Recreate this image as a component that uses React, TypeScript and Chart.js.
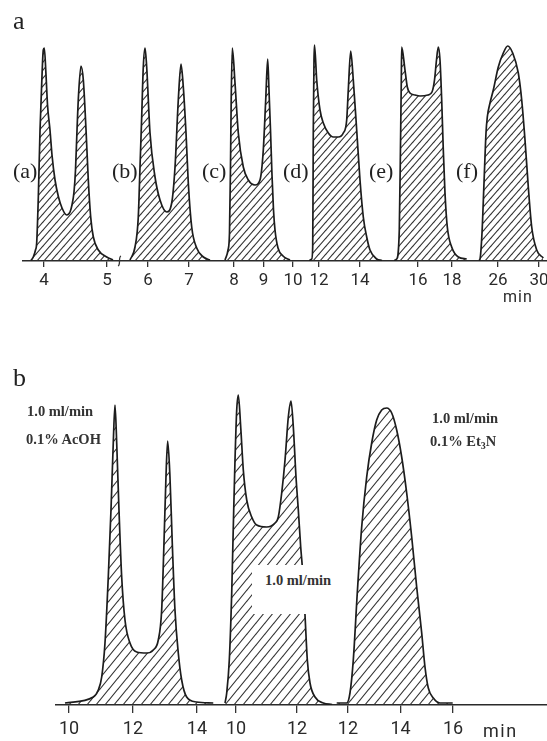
import React, { useEffect, useRef } from 'react';
import { Chart, registerables } from 'chart.js';
Chart.register(...registerables);

// ---------------- Panel a: six chromatograms (time in min, detector signal) ----------------
const runATime = [3.794, 3.830, 3.865, 3.884, 3.910, 3.937, 3.960, 3.989, 4.005, 4.032, 4.056, 4.095, 4.127, 4.175, 4.230, 4.286, 4.360, 4.413, 4.444, 4.476, 4.500, 4.524, 4.548, 4.587, 4.624, 4.667, 4.703, 4.741, 4.783, 4.862, 4.995, 5.095];
const runASignal = [0.5, 4, 11, 18, 64, 131, 171, 211, 213, 186, 156, 131, 106, 81, 64, 53, 46, 49, 56, 69, 91, 131, 166, 195, 181, 131, 81, 44, 24, 11, 4, 1];

const runBTime = [5.561, 5.683, 5.763, 5.805, 5.846, 5.885, 5.927, 5.968, 6.049, 6.171, 6.293, 6.456, 6.578, 6.659, 6.739, 6.805, 6.861, 6.927, 6.983, 7.066, 7.188, 7.349, 7.512];
const runBSignal = [1, 14, 44, 94, 144, 194, 213, 194, 128, 84, 61, 49, 58, 94, 161, 197, 174, 128, 78, 34, 13, 4, 1];

const runCTime = [7.695, 7.797, 7.847, 7.881, 7.905, 7.942, 8.034, 8.146, 8.315, 8.485, 8.712, 8.881, 8.993, 9.075, 9.142, 9.186, 9.237, 9.288, 9.339, 9.390, 9.492, 9.661, 9.898];
const runCSignal = [1, 11, 28, 94, 161, 213, 178, 128, 94, 81, 76, 81, 111, 161, 202, 171, 131, 86, 51, 31, 13, 5, 1];

const runDTime = [11.512, 11.644, 11.693, 11.707, 11.722, 11.756, 11.780, 11.888, 12.049, 12.210, 12.454, 12.698, 12.941, 13.185, 13.351, 13.429, 13.546, 13.673, 13.839, 14.0, 14.161, 14.327, 14.488, 14.815, 15.073];
const runDSignal = [0.5, 2, 14, 61, 131, 201, 216, 181, 151, 138, 128, 124, 124, 128, 141, 171, 210, 181, 131, 81, 44, 24, 11, 2, 0.5];

const runETime = [14.588, 14.747, 14.9, 14.982, 15.018, 15.041, 15.235, 15.371, 15.529, 15.824, 16.118, 16.588, 16.824, 16.971, 17.088, 17.194, 17.294, 17.394, 17.488, 17.588, 17.724, 17.982, 18.371, 18.865];
const runESignal = [0.5, 2, 31, 131, 181, 214, 191, 174, 168, 166, 165, 166, 169, 181, 201, 214, 201, 161, 111, 68, 34, 14, 4, 2];

const runFTime = [24.146, 24.244, 24.439, 24.634, 24.829, 24.956, 25.22, 25.541, 26.029, 26.517, 26.946, 27.434, 27.98, 28.312, 28.634, 28.956, 29.288, 29.776, 30.42];
const runFSignal = [0.5, 2, 28, 78, 128, 144, 158, 171, 194, 208, 215, 208, 188, 161, 121, 74, 34, 11, 3];

const ticksRunA = [4, 5];
const ticksRunB = [6, 7];
const ticksRunC = [8, 9, 10];
const ticksRunD = [12, 14];
const ticksRunE = [16, 18];
const ticksRunF = [26, 30];
const runLabels = ['(a)', '(b)', '(c)', '(d)', '(e)', '(f)'];

// ---------------- Panel b: three chromatograms ----------------
const acohTime = [9.875, 10.759, 10.916, 11.022, 11.125, 11.228, 11.3125, 11.384, 11.4375, 11.491, 11.5625, 11.647, 11.75, 11.906, 12.116, 12.428, 12.634, 12.791, 12.897, 12.969, 13.031, 13.084, 13.156, 13.228, 13.3125, 13.416, 13.522, 13.678, 13.991, 14.509];
const acohSignal = [2, 8, 15, 28, 62, 128, 195, 262, 300, 262, 195, 128, 85, 62, 53, 52, 55, 65, 95, 162, 228, 264, 228, 162, 95, 52, 25, 8, 3, 2];

const plainTime = [9.639, 9.695, 9.780, 9.859, 9.911, 9.967, 10.023, 10.075, 10.154, 10.239, 10.351, 10.515, 10.679, 11.007, 11.279, 11.387, 11.498, 11.607, 11.715, 11.803, 11.879, 11.967, 12.043, 12.121, 12.174, 12.262, 12.338, 12.426, 12.590, 12.862, 13.15];
const plainSignal = [2, 12, 45, 112, 178, 245, 295, 310, 278, 235, 205, 188, 180, 178, 182, 188, 212, 245, 288, 304, 278, 228, 195, 158, 138, 90, 45, 22, 8, 2, 0.5];

const et3nTime = [11.570, 11.950, 12.076, 12.202, 12.354, 12.522, 12.712, 12.903, 13.093, 13.284, 13.474, 13.665, 13.855, 14.046, 14.236, 14.427, 14.617, 14.808, 14.933, 15.059, 15.250, 15.505, 15.989];
const et3nSignal = [2, 2, 12, 45, 112, 178, 228, 262, 285, 295, 297, 292, 275, 248, 212, 168, 118, 72, 38, 17, 7, 2, 2];

const ticksAcoh = [10, 12, 14];
const ticksPlain = [10, 12];
const ticksEt3n = [12, 14, 16];

// ---------------- layout (axis windows of each broken-axis piece) ----------------
type Seg = { time: number[]; signal: number[]; ticks: number[]; min: number; max: number; left: number; width: number };

const panelASegs: Seg[] = [
  { time: runATime, signal: runASignal, ticks: ticksRunA, min: 3.651, max: 5.206, left: 22, width: 98 },
  { time: runBTime, signal: runBSignal, ticks: ticksRunB, min: 5.317, max: 7.561, left: 120, width: 92 },
  { time: runCTime, signal: runCSignal, ticks: ticksRunC, min: 7.254, max: 10.407, left: 212, width: 93 },
  { time: runDTime, signal: runDSignal, ticks: ticksRunD, min: 11.317, max: 15.22, left: 305, width: 80 },
  { time: runETime, signal: runESignal, ticks: ticksRunE, min: 14.059, max: 19.059, left: 385, width: 85 },
  { time: runFTime, signal: runFSignal, ticks: ticksRunF, min: 23.268, max: 30.78, left: 470, width: 77 },
];
const runLabelX = [13, 112, 202, 283, 369, 456];

const panelBSegs: Seg[] = [
  { time: acohTime, signal: acohSignal, ticks: ticksAcoh, min: 9.5625, max: 14.72, left: 55, width: 165 },
  { time: plainTime, signal: plainSignal, ticks: ticksPlain, min: 9.475, max: 13.18, left: 220, width: 113 },
  { time: et3nTime, signal: et3nSignal, ticks: ticksEt3n, min: 11.429, max: 19.581, left: 333, width: 214 },
];

function makeHatch(ctx: CanvasRenderingContext2D, w: number, h: number) {
  const c = document.createElement('canvas');
  c.width = w;
  c.height = h;
  const g = c.getContext('2d')!;
  g.strokeStyle = '#2e2e2e';
  g.lineWidth = 1.1;
  for (const off of [-w, 0, w]) {
    g.beginPath();
    g.moveTo(off - w, 2 * h);
    g.lineTo(off + 2 * w, -h);
    g.stroke();
  }
  return ctx.createPattern(c, 'repeat');
}

type SegProps = {
  seg: Seg; top: number; areaH: number; axisH: number; hatchW: number; hatchH: number;
  fontSize: number; tickLen: number; tickPad: number;
};

function Segment({ seg, top, areaH, axisH, hatchW, hatchH, fontSize, tickLen, tickPad }: SegProps) {
  const ref = useRef<HTMLCanvasElement>(null);
  const height = areaH + axisH;
  useEffect(() => {
    const canvas = ref.current!;
    const ctx = canvas.getContext('2d')!;
    const pattern = makeHatch(ctx, hatchW, hatchH);
    const chart = new Chart(canvas, {
      type: 'line',
      data: {
        datasets: [
          {
            data: seg.time.map((t, i) => ({ x: t, y: seg.signal[i] })),
            borderColor: '#1c1c1c',
            borderWidth: 1.7,
            pointRadius: 0,
            cubicInterpolationMode: 'monotone',
            fill: 'origin',
            backgroundColor: pattern as any,
          },
        ],
      },
      options: {
        animation: false,
        responsive: false,
        maintainAspectRatio: false,
        events: [],
        layout: { padding: 0 },
        plugins: { legend: { display: false }, tooltip: { enabled: false } },
        scales: {
          x: {
            type: 'linear',
            min: seg.min,
            max: seg.max,
            afterBuildTicks: (s: any) => {
              s.ticks = seg.ticks.map((v) => ({ value: v }));
            },
            afterFit: (s: any) => {
              s.height = axisH;
              s.paddingLeft = 0;
              s.paddingRight = 0;
            },
            ticks: {
              autoSkip: false,
              maxRotation: 0,
              padding: tickPad,
              color: '#2a2a2a',
              font: { family: 'Roboto, "DejaVu Sans", sans-serif', size: fontSize },
              callback: (v: any) => String(v),
            },
            grid: { drawOnChartArea: false, drawTicks: true, tickLength: tickLen, color: '#333', lineWidth: 1.3 },
            border: { display: true, color: '#2a2a2a', width: 1.6 },
          },
          y: { display: false, min: 0, max: areaH },
        },
      } as any,
    });
    return () => chart.destroy();
  }, []);
  return (
    <canvas
      ref={ref}
      width={seg.width}
      height={height}
      style={{ position: 'absolute', left: seg.left, top, width: seg.width, height }}
    />
  );
}

const serif = '"Liberation Serif", "Times New Roman", serif';
const abs = (left: number, top: number, extra: React.CSSProperties = {}): React.CSSProperties => ({
  position: 'absolute', left, top, lineHeight: 1, whiteSpace: 'nowrap', ...extra,
});

export default function App() {
  const boldNote: React.CSSProperties = { fontFamily: serif, fontWeight: 'bold', fontSize: 14.5, color: '#333' };
  return (
    <div style={{ position: 'absolute', left: 0, top: 0, width: 547, height: 741, overflow: 'hidden', background: '#fff' }}>
      {panelASegs.map((s, i) => (
        <Segment key={'a' + i} seg={s} top={30} areaH={231} axisH={45} hatchW={7} hatchH={8} fontSize={17} tickLen={6} tickPad={4} />
      ))}
      {panelBSegs.map((s, i) => (
        <Segment key={'b' + i} seg={s} top={370} areaH={335} axisH={40} hatchW={9} hatchH={11} fontSize={18} tickLen={8} tickPad={6} />
      ))}

      <svg style={{ position: 'absolute', left: 115, top: 254, width: 10, height: 14 }}>
        <path d="M3,12 C6,11 3,3 6,2" stroke="#333" strokeWidth={1.3} fill="none" />
      </svg>

      <div style={abs(13, 8, { fontFamily: serif, fontSize: 26, color: '#222' })}>a</div>
      <div style={abs(13, 365, { fontFamily: serif, fontSize: 26, color: '#222' })}>b</div>

      {runLabels.map((t, i) => (
        <div key={t} style={abs(runLabelX[i], 160, { fontFamily: serif, fontSize: 22, color: '#222' })}>{t}</div>
      ))}

      <div style={abs(503, 289, { fontFamily: 'Roboto, sans-serif', fontSize: 16, color: '#2a2a2a', letterSpacing: 1 })}>min</div>
      <div style={abs(483, 722, { fontFamily: 'Roboto, sans-serif', fontSize: 18, color: '#2a2a2a', letterSpacing: 1.5 })}>min</div>

      <div style={abs(27, 404, boldNote)}>1.0 ml/min</div>
      <div style={abs(26, 432, boldNote)}>0.1% AcOH</div>
      <div style={abs(432, 411, boldNote)}>1.0 ml/min</div>
      <div style={abs(430, 434, boldNote)}>
        0.1% Et<span style={{ fontSize: 10, verticalAlign: -3 }}>3</span>N
      </div>
      <div style={abs(252, 565, { ...boldNote, background: '#fff', width: 88, height: 49, paddingTop: 8, paddingLeft: 13, boxSizing: 'border-box' })}>
        1.0 ml/min
      </div>
    </div>
  );
}
